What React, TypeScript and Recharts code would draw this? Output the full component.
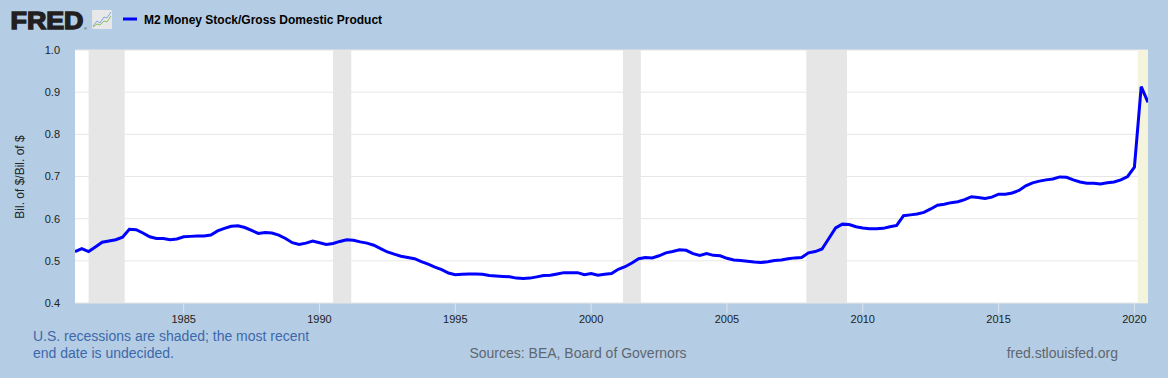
import React from "react";
import { LineChart, Line, XAxis, YAxis, CartesianGrid, ReferenceArea } from "recharts";

// Quarterly M2 / GDP ratio, 1981Q1 .. 2020Q3
const startYear = 1981;
const ratioValues = [
  0.522, 0.529, 0.522, 0.533, 0.544, 0.547, 0.550, 0.556, 0.575, 0.574,
  0.566, 0.557, 0.553, 0.553, 0.550, 0.552, 0.557, 0.558, 0.559, 0.559,
  0.561, 0.571, 0.577, 0.582, 0.583, 0.579, 0.572, 0.565, 0.567, 0.566,
  0.561, 0.553, 0.543, 0.539, 0.542, 0.547, 0.543, 0.539, 0.541, 0.546,
  0.550, 0.549, 0.545, 0.542, 0.537, 0.529, 0.521, 0.516, 0.511, 0.508,
  0.505, 0.498, 0.492, 0.485, 0.479, 0.471, 0.467, 0.468, 0.469, 0.469,
  0.468, 0.465, 0.464, 0.463, 0.462, 0.459, 0.458, 0.459, 0.462, 0.465,
  0.466, 0.469, 0.472, 0.472, 0.472, 0.467, 0.470, 0.466, 0.468, 0.470,
  0.480, 0.486, 0.495, 0.505, 0.508, 0.507, 0.512, 0.519, 0.522, 0.526,
  0.525, 0.517, 0.513, 0.517, 0.513, 0.512, 0.506, 0.502, 0.501, 0.499,
  0.497, 0.496, 0.498, 0.501, 0.502, 0.505, 0.507, 0.508, 0.519, 0.522,
  0.528, 0.553, 0.578, 0.587, 0.586, 0.581, 0.578, 0.576, 0.576, 0.577,
  0.581, 0.584, 0.607, 0.609, 0.611, 0.615, 0.623, 0.632, 0.634, 0.638,
  0.640, 0.645, 0.652, 0.650, 0.648, 0.651, 0.658, 0.658, 0.661, 0.667,
  0.678, 0.685, 0.689, 0.692, 0.694, 0.699, 0.698, 0.692, 0.687, 0.684,
  0.684, 0.682, 0.685, 0.687, 0.692, 0.700, 0.722, 0.913, 0.876,
];

const yearTicks = [1985, 1990, 1995, 2000, 2005, 2010, 2015, 2020];
const valueTicks = [0.4, 0.5, 0.6, 0.7, 0.8, 0.9, 1.0];
const recessionStarts = [1981.5, 1990.5, 2001.17, 2007.92];
const recessionEnds = [1982.83, 1991.17, 2001.83, 2009.42];
const ongoingRecessionStart = 2020.12;
const domainEnd = 2020.5;

const data = ratioValues.map((v, i) => ({ t: startYear + i * 0.25, v }));

const FONT = "'Liberation Sans', Arial, Helvetica, sans-serif";
const BG = "#b4cde4";

export default function App() {
  return (
    <div
      style={{
        position: "fixed",
        left: 0,
        top: 0,
        width: 1168,
        height: 378,
        background: BG,
        fontFamily: FONT,
      }}
    >
      <LineChart
        width={1168}
        height={378}
        data={data}
        margin={{ top: 50, right: 20, bottom: 45, left: 15 }}
      >
        <CartesianGrid vertical={false} stroke="#e6e6e6" fill="#ffffff" />
        {recessionStarts.map((s, i) => (
          <ReferenceArea
            key={i}
            x1={s}
            x2={recessionEnds[i]}
            y1={0.4}
            y2={1.0}
            fill="#e6e6e6"
            fillOpacity={1}
            stroke="none"
          />
        ))}
        <ReferenceArea
          x1={ongoingRecessionStart}
          x2={domainEnd}
          y1={0.4}
          y2={1.0}
          fill="#f4f3dc"
          fillOpacity={1}
          stroke="none"
        />
        <XAxis
          dataKey="t"
          type="number"
          domain={[startYear, domainEnd]}
          ticks={yearTicks}
          height={30}
          axisLine={false}
          tickLine={{ stroke: "#dde5ee" }}
          tickSize={10}
          tickMargin={2}
          tick={{ fontSize: 11, fill: "#222", fontFamily: FONT }}
          allowDataOverflow
        />
        <YAxis
          type="number"
          domain={[0.4, 1.0]}
          ticks={valueTicks}
          width={60}
          axisLine={false}
          tickLine={false}
          tickSize={6}
          tickMargin={9}
          tickFormatter={(v: number) => v.toFixed(1)}
          tick={{ fontSize: 11, fill: "#222", fontFamily: FONT }}
        />
        <Line
          type="linear"
          dataKey="v"
          stroke="#0000ff"
          strokeWidth={3}
          dot={false}
          isAnimationActive={false}
        />
      </LineChart>
      <svg
        width={1168}
        height={378}
        style={{ position: "absolute", left: 0, top: 0, pointerEvents: "none" }}
      >
        <text
          x={10.5}
          y={29}
          fontFamily={FONT}
          fontWeight={900}
          fontSize={24}
          fill="#231f20"
          stroke="#231f20"
          strokeWidth={1.4}
          strokeLinejoin="miter"
          textLength={73}
          lengthAdjust="spacingAndGlyphs"
        >
          FRED
        </text>
        <text x={84} y={30} fontFamily={FONT} fontSize={4} fill="#231f20">
          ®
        </text>
        <rect x={92} y={10} width={20} height={19} fill="#e8e8e8" rx={1} />
        <polyline
          points="93,26 97,21 100,23 104,17 107,18 111,12"
          fill="none"
          stroke="#7fa7d8"
          strokeWidth={1}
        />
        <polyline
          points="93,27 97,24 100,25 104,21 107,22 111,16"
          fill="none"
          stroke="#8fbf6a"
          strokeWidth={1}
        />
        <line x1={123} y1={19} x2={137} y2={19} stroke="#0000ff" strokeWidth={3} />
        <text x={144} y={23.5} fontFamily={FONT} fontWeight={700} fontSize={12} fill="#000">
          M2 Money Stock/Gross Domestic Product
        </text>
        <text
          x={0}
          y={0}
          transform="translate(24,177) rotate(-90)"
          textAnchor="middle"
          fontFamily={FONT}
          fontSize={12}
          fill="#222"
        >
          Bil. of $/Bil. of $
        </text>
        <text x={33} y={341} fontFamily={FONT} fontSize={14} fill="#3d68ab">
          U.S. recessions are shaded; the most recent
        </text>
        <text x={33} y={358} fontFamily={FONT} fontSize={14} fill="#3d68ab">
          end date is undecided.
        </text>
        <text x={578} y={358} textAnchor="middle" fontFamily={FONT} fontSize={14} fill="#5f6670">
          Sources: BEA, Board of Governors
        </text>
        <text x={1118} y={358} textAnchor="end" fontFamily={FONT} fontSize={14} fill="#5f6670">
          fred.stlouisfed.org
        </text>
      </svg>
    </div>
  );
}
